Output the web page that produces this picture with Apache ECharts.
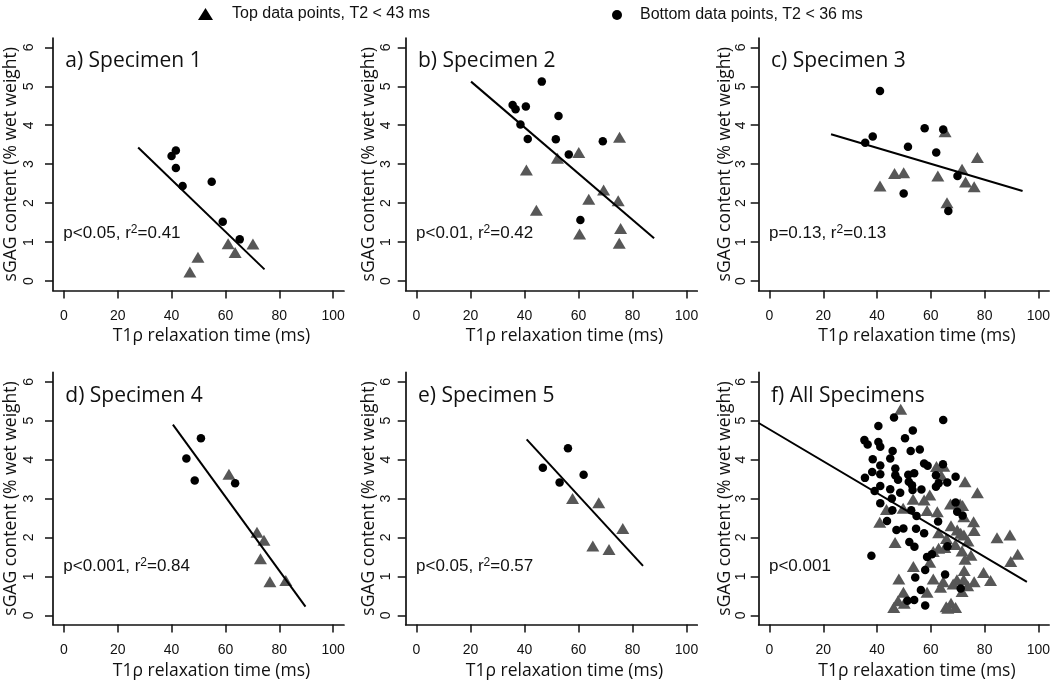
<!DOCTYPE html>
<html><head><meta charset="utf-8">
<script src="https://cdn.jsdelivr.net/npm/echarts@6/dist/echarts.min.js"></script>
<style>html,body{margin:0;padding:0;background:#fff}#c{width:1050px;height:681px}</style>
</head><body><div id="c"></div>
<script>
// ---------- data ----------
const xTicks = [0, 20, 40, 60, 80, 100];
const yTicks = [0, 1, 2, 3, 4, 5, 6];
const panelTitles = ['a) Specimen 1', 'b) Specimen 2', 'c) Specimen 3', 'd) Specimen 4', 'e) Specimen 5', 'f) All Specimens'];
const pValues = ['p<0.05', 'p<0.01', 'p=0.13', 'p<0.001', 'p<0.05', 'p<0.001'];
const rSquared = ['0.41', '0.42', '0.13', '0.84', '0.57', null];
const xAxisTitle = 'T1ρ relaxation time (ms)';
const yAxisTitle = 'sGAG content (% wet weight)';
const topName = 'Top data points, T2 < 43 ms';
const bottomName = 'Bottom data points, T2 < 36 ms';

const s1Circles = [[40.0,3.21],[41.6,3.35],[41.6,2.90],[44.1,2.44],[54.9,2.55],[59.0,1.52],[65.3,1.07]];
const s1Triangles = [[46.8,0.23],[49.8,0.61],[61.0,0.96],[63.6,0.73],[70.2,0.95]];
const s1Fit = [[27.6,3.43],[74.5,0.30]];

const s2Circles = [[35.6,4.52],[36.7,4.41],[40.5,4.48],[46.4,5.12],[38.5,4.02],[41.2,3.65],[52.6,4.24],[51.6,3.64],[56.4,3.25],[69.0,3.59],[60.7,1.57]];
const s2Triangles = [[40.7,2.85],[44.4,1.82],[52.2,3.15],[60.1,3.30],[63.8,2.10],[69.3,2.34],[75.2,3.69],[74.7,2.06],[75.6,1.35],[60.4,1.21],[75.1,0.97]];
const s2Fit = [[20.2,5.12],[88.0,1.10]];

const s3Circles = [[35.6,3.55],[38.4,3.71],[41.1,4.88],[51.5,3.45],[57.7,3.92],[62.0,3.30],[64.6,3.89],[49.9,2.25],[69.9,2.70],[66.5,1.80]];
const s3Triangles = [[41.1,2.44],[46.5,2.76],[49.9,2.78],[62.6,2.70],[65.3,3.83],[71.6,2.87],[72.9,2.54],[77.3,3.17],[76.1,2.42],[66.0,2.01]];
const s3Fit = [[22.9,3.77],[94.1,2.31]];

const s4Circles = [[45.5,4.03],[48.6,3.46],[50.9,4.55],[63.6,3.39]];
const s4Triangles = [[61.3,3.62],[71.7,2.13],[74.3,1.93],[73.0,1.45],[76.5,0.86],[82.4,0.89]];
const s4Fit = [[40.5,4.90],[89.7,0.22]];

const s5Circles = [[46.8,3.79],[53.0,3.41],[56.1,4.29],[61.9,3.61]];
const s5Triangles = [[57.8,3.00],[67.5,2.89],[76.4,2.23],[65.3,1.78],[71.3,1.69]];
const s5Fit = [[40.8,4.52],[83.9,1.27]];

const allCircles = [[46.3,5.08],[64.6,5.02],[40.5,4.86],[53.3,4.75],[35.3,4.50],[36.5,4.39],[40.5,4.45],[41.2,4.33],[50.4,4.55],[45.8,4.22],[52.5,4.22],[55.9,4.26],[38.4,4.01],[44.9,4.03],[41.2,3.85],[35.5,3.53],[38.2,3.68],[41.2,3.62],[46.8,3.77],[46.8,3.60],[47.8,3.48],[51.6,3.61],[53.8,3.65],[51.8,3.43],[53.0,3.34],[57.5,3.90],[58.8,3.84],[64.5,3.88],[61.9,3.60],[62.9,3.39],[61.9,3.30],[66.1,3.41],[69.2,3.56],[41.2,3.32],[44.9,3.24],[53.2,3.22],[56.5,3.23],[39.1,3.19],[48.6,3.15],[45.5,3.00],[41.2,2.88],[45.7,2.70],[52.7,2.70],[54.7,2.55],[69.2,2.90],[69.8,2.66],[71.8,2.56],[43.7,2.42],[62.7,2.41],[47.2,2.19],[49.8,2.23],[54.5,2.22],[57.5,2.11],[52.0,1.88],[53.9,1.76],[66.2,1.77],[37.9,1.53],[58.6,1.50],[60.4,1.57],[57.9,1.16],[54.2,0.97],[65.3,1.05],[56.3,0.65],[71.1,0.69],[51.3,0.37],[53.8,0.39],[57.9,0.25]];
const allTriangles = [[48.8,5.29],[62.1,3.82],[64.8,3.83],[63.9,3.59],[72.7,3.43],[77.3,3.15],[59.6,3.09],[53.4,2.98],[57.5,2.96],[43.5,2.72],[49.7,2.75],[58.6,2.69],[62.4,2.66],[70.9,2.86],[71.8,2.82],[67.3,2.86],[72.3,2.53],[41.0,2.39],[75.9,2.40],[62.9,2.12],[67.5,2.30],[69.8,2.19],[71.1,2.11],[72.3,2.06],[76.1,2.18],[84.6,1.99],[89.4,2.06],[46.7,1.87],[65.8,1.97],[73.8,1.91],[69.1,1.82],[62.9,1.72],[65.2,1.74],[60.9,1.64],[71.6,1.65],[74.9,1.54],[72.7,1.44],[59.6,1.36],[92.3,1.57],[89.7,1.38],[53.5,1.25],[72.4,1.15],[79.6,1.10],[48.1,0.93],[60.9,0.93],[64.6,0.86],[69.7,0.91],[72.2,0.92],[76.1,0.86],[82.2,0.89],[68.3,0.80],[63.6,0.72],[73.7,0.76],[71.6,0.61],[49.8,0.59],[58.6,0.59],[47.8,0.37],[50.1,0.31],[46.2,0.20],[65.7,0.22],[67.5,0.31],[69.2,0.20],[66.3,0.18]];
const allFit = [[-4.0,4.94],[95.7,0.86]];

const circlesByPanel = [s1Circles, s2Circles, s3Circles, s4Circles, s5Circles, allCircles];
const trianglesByPanel = [s1Triangles, s2Triangles, s3Triangles, s4Triangles, s5Triangles, allTriangles];
const fitsByPanel = [s1Fit, s2Fit, s3Fit, s4Fit, s5Fit, allFit];

// ---------- layout ----------
const colLeft = [53.0, 405.7, 758.7];
const colWidth = [291, 291.6, 290.5];
const rowTop = [38, 372.4];
const rowHeight = [252.4, 252.2];
const yLabelMargin = [17, 12.5, 11];
const yNameGap = [33, 28, 25];
const titleFont = '"Open Sans", "Noto Sans", sans-serif';
const tickFont = '"Liberation Sans", Arial, sans-serif';

const grids = [], xAxes = [], yAxes = [], series = [], titles = [];
for (let i = 0; i < 6; i++) {
  const c = i % 3, r = Math.floor(i / 3);
  grids.push({left: colLeft[c], top: rowTop[r], width: colWidth[c], height: rowHeight[r],
    containLabel: false, outerBoundsMode: 'none'});
  xAxes.push({
    type: 'value', gridIndex: i, min: -4, max: 104,
    axisLine: {show: true, onZero: false, lineStyle: {color: '#111', width: 1.7}},
    axisTick: {show: true, customValues: xTicks, length: 8, inside: false, lineStyle: {color: '#111', width: 1.5}},
    axisLabel: {customValues: xTicks, color: '#111', fontFamily: tickFont, fontSize: 14, margin: 19},
    splitLine: {show: false},
    name: xAxisTitle, nameLocation: 'middle', nameGap: 37, nameMoveOverlap: false,
    nameTextStyle: {fontFamily: titleFont, fontSize: 17.5, color: '#111', padding: [0, 0, 0, 26]}
  });
  yAxes.push({
    type: 'value', gridIndex: i, min: -0.24, max: 6.24,
    axisLine: {show: true, onZero: false, lineStyle: {color: '#111', width: 1.7}},
    axisTick: {show: true, customValues: yTicks, length: 8, inside: false, lineStyle: {color: '#111', width: 1.5}},
    axisLabel: {customValues: yTicks, color: '#111', fontFamily: tickFont, fontSize: 14, rotate: 90, margin: yLabelMargin[c]},
    splitLine: {show: false},
    name: yAxisTitle, nameLocation: 'middle', nameGap: yNameGap[c], nameRotate: 90, nameMoveOverlap: false,
    nameTextStyle: {fontFamily: titleFont, fontSize: 17.5, color: '#111'}
  });
  series.push({
    type: 'scatter', name: topName, xAxisIndex: i, yAxisIndex: i, data: trianglesByPanel[i],
    symbol: 'triangle', symbolSize: [13, 11], itemStyle: {color: '#575757', opacity: 1}, z: 2, silent: true
  });
  series.push({
    type: 'scatter', name: bottomName, xAxisIndex: i, yAxisIndex: i, data: circlesByPanel[i],
    symbol: 'circle', symbolSize: 8.5, itemStyle: {color: '#000', opacity: 1}, z: 3, silent: true
  });
  series.push({
    type: 'line', name: 'fit ' + i, xAxisIndex: i, yAxisIndex: i, data: fitsByPanel[i],
    showSymbol: false, symbol: 'none', lineStyle: {color: '#000', width: 2}, z: 4, silent: true
  });
  const x0 = colLeft[c] + 4 * colWidth[c] / 108;
  titles.push({
    text: panelTitles[i], left: x0 + 1.5, top: r === 0 ? 51 : 386, padding: 0,
    textStyle: {fontFamily: titleFont, fontSize: 21, fontWeight: 'normal', color: '#111'}
  });
  const stat = rSquared[i] ? pValues[i] + ', r{sup|2}=' + rSquared[i] : pValues[i];
  titles.push({
    text: stat, left: x0 - 0.5, top: r === 0 ? 224 : 557, padding: 0,
    textStyle: {fontFamily: tickFont, fontSize: 17, fontWeight: 'normal', color: '#111', lineHeight: 19,
      rich: {sup: {fontFamily: tickFont, fontSize: 12, color: '#111', verticalAlign: 'top', lineHeight: 19}}}
  });
}

const chart = echarts.init(document.getElementById('c'), null, {renderer: 'canvas'});
chart.setOption({
  animation: false,
  backgroundColor: '#fff',
  title: titles,
  legend: [
    {left: 198, top: 6, selectedMode: false, itemWidth: 15, itemHeight: 12, padding: 0,
     data: [{name: topName, icon: 'triangle', itemStyle: {color: '#000'}}],
     textStyle: {fontFamily: tickFont, fontSize: 16, color: '#111', padding: [0, 0, 0, 14]}},
    {left: 612, top: 7, selectedMode: false, itemWidth: 10, itemHeight: 10, padding: 0,
     data: [{name: bottomName, icon: 'circle', itemStyle: {color: '#000'}}],
     textStyle: {fontFamily: tickFont, fontSize: 16, color: '#111', padding: [0, 0, 0, 13]}}
  ],
  grid: grids,
  xAxis: xAxes,
  yAxis: yAxes,
  series: series
});
</script></body></html>
